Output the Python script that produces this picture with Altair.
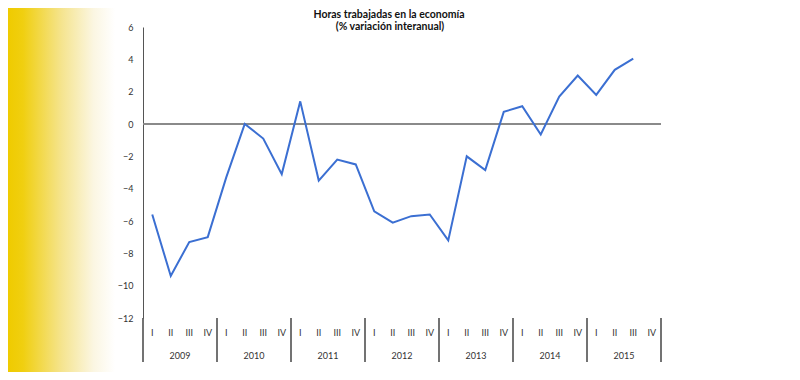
import altair as alt
import pandas as pd

years = [2009, 2010, 2011, 2012, 2013, 2014, 2015]
quarters = ["I", "II", "III", "IV"]
values = [-5.6, -9.4, -7.3, -7.0,
          -3.3, 0.0, -0.9, -3.1,
          1.4, -3.5, -2.2, -2.5,
          -5.4, -6.1, -5.7, -5.6,
          -7.2, -2.0, -2.85, 0.75,
          1.1, -0.65, 1.7, 3.0,
          1.8, 3.35, 4.05]
y_ticks = [-12, -10, -8, -6, -4, -2, 0, 2, 4, 6]
title_lines = ["Horas trabajadas en la economía", "(% variación interanual)"]

df = pd.DataFrame({
    "idx": list(range(len(values))),
    "value": values,
})
qdf = pd.DataFrame([{"idx": yi * 4 + qi, "q": q}
                    for yi in range(len(years)) for qi, q in enumerate(quarters)])
ydf = pd.DataFrame({"year": [str(y) for y in years],
                    "center": [i * 4 + 1.5 for i in range(len(years))]})
sep = pd.DataFrame({"pos": [i * 4 - 0.5 for i in range(len(years) + 1)]})
zero = pd.DataFrame({"value": [0]})
one = pd.DataFrame({"a": [0]})

W, H = 518, 291
FONT = "Lato"
xs = alt.Scale(domain=[-0.5, len(years) * 4 - 0.5], nice=False, zero=False)
ys = alt.Scale(domain=[min(y_ticks), max(y_ticks)], nice=False)
yaxis = alt.Axis(values=y_ticks, grid=False, ticks=False, domain=True,
                 domainColor="#555555", domainWidth=1, labelPadding=10,
                 labelFontSize=9, labelColor="#333333", labelFont=FONT, title=None)

gradient = alt.Chart(one).mark_rect(
    fill=alt.Gradient(gradient="linear", x1=0, x2=1, y1=0, y2=0,
                      stops=[alt.GradientStop(color="#EFCB00", offset=0),
                             alt.GradientStop(color="#F0CF10", offset=0.14),
                             alt.GradientStop(color="#F5E48E", offset=0.5),
                             alt.GradientStop(color="#FBF6E2", offset=0.8),
                             alt.GradientStop(color="#FFFFFF", offset=1)])
).encode(x=alt.value(-135), x2=alt.value(-28), y=alt.value(-19), y2=alt.value(345))

title1 = alt.Chart(one).mark_text(text=title_lines[0], fontSize=10.5, font=FONT,
                                  fontWeight="bold", color="#111111",
                                  baseline="middle", align="center").encode(
    x=alt.value(246), y=alt.value(-12))
title2 = alt.Chart(one).mark_text(text=title_lines[1], fontSize=10.5, font=FONT,
                                  fontWeight="bold", color="#111111",
                                  baseline="middle", align="center").encode(
    x=alt.value(247), y=alt.value(0))

zero_rule = alt.Chart(zero).mark_rule(color="#8a8a8a", strokeWidth=2).encode(
    y=alt.Y("value:Q", scale=ys, axis=yaxis))

line = alt.Chart(df).mark_line(color="#3b6fd2", strokeWidth=2).encode(
    x=alt.X("idx:Q", scale=xs, axis=None),
    y=alt.Y("value:Q", scale=ys, axis=yaxis))

qtext = alt.Chart(qdf).mark_text(fontSize=9, font=FONT, color="#333333",
                                 baseline="middle").encode(
    x=alt.X("idx:Q", scale=xs, axis=None), y=alt.value(306), text="q:N")

ytext = alt.Chart(ydf).mark_text(fontSize=9, font=FONT, color="#333333",
                                 baseline="middle").encode(
    x=alt.X("center:Q", scale=xs, axis=None), y=alt.value(329), text="year:N")

seps = alt.Chart(sep).mark_rule(color="#444444", strokeWidth=1.5).encode(
    x=alt.X("pos:Q", scale=xs, axis=None), y=alt.value(291), y2=alt.value(335))

chart = alt.layer(gradient, title1, title2, zero_rule, line, qtext, ytext, seps).properties(
    width=W, height=H,
    padding={"left": 135, "top": 19, "right": 131, "bottom": 54},
    autosize=alt.AutoSizeParams(type="none"),
).configure_view(stroke=None)

chart.save("out.html", embed_options={"renderer": "svg", "actions": False})
